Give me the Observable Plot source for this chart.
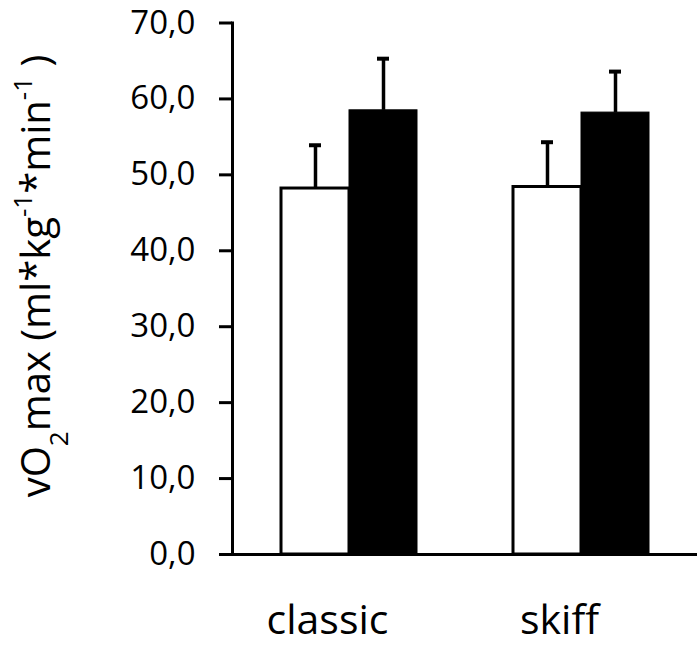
<!DOCTYPE html>
<html><head><meta charset="utf-8">
<script src="https://cdn.jsdelivr.net/npm/d3@7"></script>
<script src="https://cdn.jsdelivr.net/npm/@observablehq/plot@0.6"></script>
<style>body{margin:0;background:#fff} svg{display:block}</style>
</head><body><div id="chart"></div>
<script>
// data
const categories = ["classic", "skiff"];
const whiteMeans = [48.2, 48.4];
const whiteSD = [5.7, 5.9];
const blackMeans = [58.5, 58.2];
const blackSD = [6.8, 5.4];
const yTicks = [0, 10, 20, 30, 40, 50, 60, 70];
const yTitle = ["vO", "2", "max (ml*kg", "-1", "*min", "-1", " )"];

const whiteRows = categories.map((c, i) => ({category: c, mean: whiteMeans[i], sd: whiteSD[i]}));
const blackRows = categories.map((c, i) => ({category: c, mean: blackMeans[i], sd: blackSD[i]}));

const W = 697, H = 645;
const mL = 232, mR = 0, mT = 22.5, mB = 91;
const padInner = 0.415, padOuter = padInner / 2;
const step = (W - mL - mR) / (categories.length - padInner + 2 * padOuter);
const bw = step * (1 - padInner);
const half = bw / 2;
const capHalf = 6;
const font = "Open Sans";

const plot = Plot.plot({
  width: W, height: H,
  marginLeft: mL, marginRight: mR, marginTop: mT, marginBottom: mB,
  style: {fontFamily: font, background: "#fff", color: "#000", overflow: "visible"},
  x: {domain: categories, paddingInner: padInner, paddingOuter: padOuter},
  y: {domain: [0, 70]},
  marks: [
    Plot.barY(whiteRows, {x: "category", y: "mean", fill: "white", stroke: "black", strokeWidth: 3, insetRight: half}),
    Plot.barY(blackRows, {x: "category", y: "mean", fill: "black", stroke: "black", strokeWidth: 1, insetLeft: half}),
    Plot.ruleX(whiteRows, {x: "category", y1: "mean", y2: d => d.mean + d.sd, dx: -half / 2, strokeWidth: 3.5}),
    Plot.ruleX(blackRows, {x: "category", y1: "mean", y2: d => d.mean + d.sd, dx: half / 2, strokeWidth: 3.5}),
    Plot.tickY(whiteRows, {x: "category", y: d => d.mean + d.sd, insetLeft: half / 2 - capHalf, insetRight: half + half / 2 - capHalf, strokeWidth: 4}),
    Plot.tickY(blackRows, {x: "category", y: d => d.mean + d.sd, insetLeft: half + half / 2 - capHalf, insetRight: half / 2 - capHalf, strokeWidth: 4}),
    Plot.ruleY([0], {strokeWidth: 3}),
    Plot.frame({anchor: "left", strokeWidth: 3}),
    Plot.axisY({ticks: yTicks, tickSize: 13, tickPadding: 24, strokeWidth: 3, tickFormat: d => d.toFixed(1).replace(".", ","), fontSize: 33, label: null}),
    Plot.axisX({tickSize: 0, tickPadding: 50, fontSize: 41, dx: -22, label: null})
  ]
});
document.getElementById("chart").appendChild(plot);

// rotated y-axis title with sub/superscripts
const svg = d3.select(plot);
const t = svg.append("text")
  .attr("transform", `translate(50,276) rotate(-90)`)
  .attr("text-anchor", "middle")
  .attr("font-family", font)
  .attr("font-size", 40)
  .attr("fill", "#000");
yTitle.forEach((s, i) => {
  const ts = t.append("tspan").text(s);
  if (i === 1) ts.attr("baseline-shift", "sub").attr("font-size", "65%");
  if (i === 3 || i === 5) ts.attr("baseline-shift", "super").attr("font-size", "65%");
});
</script>
</body></html>
